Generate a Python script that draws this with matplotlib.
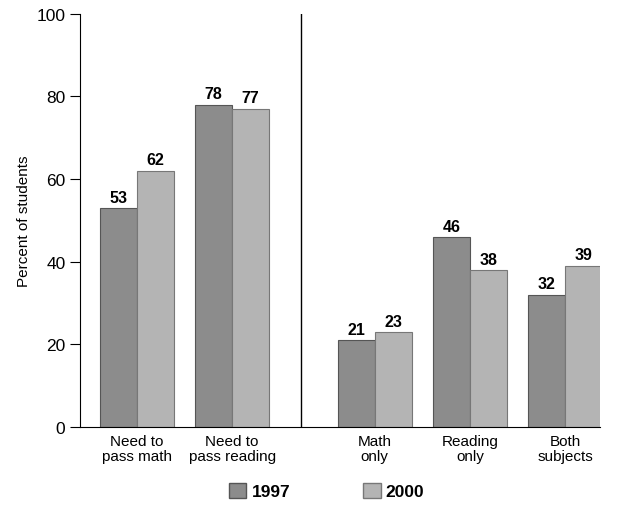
import numpy as np
import matplotlib.pyplot as plt
from matplotlib.patches import Patch

plt.rcParams['font.family'] = ['Liberation Sans', 'DejaVu Sans']

categories = ["Need to\npass math", "Need to\npass reading", "Math\nonly", "Reading\nonly", "Both\nsubjects"]
years = ["1997", "2000"]
vals_1997 = [53, 78, 21, 46, 32]
vals_2000 = [62, 77, 23, 38, 39]

colors = ["#8c8c8c", "#b4b4b4"]

fig = plt.figure(figsize=(6.2, 5.1), dpi=100)
ax = fig.add_axes([0.129, 0.161, 0.839, 0.81])

pos = np.array([0, 1, 2.5, 3.5, 4.5])
w = 0.39
b1 = ax.bar(pos - w/2, vals_1997, w, color=colors[0], edgecolor="#555555", linewidth=0.8)
b2 = ax.bar(pos + w/2, vals_2000, w, color=colors[1], edgecolor="#777777", linewidth=0.8)

for bars in (b1, b2):
    for rect in bars:
        h = rect.get_height()
        ax.text(rect.get_x() + rect.get_width()/2, h + 0.8, f"{h:.0f}",
                ha="center", va="bottom", fontsize=11.5, fontweight="bold")

# divider between the two groups
ax.axvline(1.72, color="black", linewidth=1)

ax.set_xlim(-0.6, 4.87)
ax.set_ylim(0, 100)
ax.set_yticks([0, 20, 40, 60, 80, 100])
ax.set_xticks(pos)
ax.set_xticklabels(categories, fontsize=11, linespacing=1.15)
ax.tick_params(axis="x", length=0, pad=5)
ax.tick_params(axis="y", labelsize=12.5, length=7, direction="out")
ax.set_ylabel("Percent of students", fontsize=11)

for s in ["top", "right"]:
    ax.spines[s].set_visible(False)

handles = [Patch(facecolor=colors[0], edgecolor="#555555"),
           Patch(facecolor=colors[1], edgecolor="#777777")]
fig.legend(handles, years, loc="lower center", bbox_to_anchor=(0.527, -0.012), ncol=2,
           frameon=False, prop={"weight": "bold", "size": 12.5}, handlelength=1.0,
           handleheight=1.0, columnspacing=4.2, handletextpad=0.3)

fig.savefig("out.png", dpi=100)
